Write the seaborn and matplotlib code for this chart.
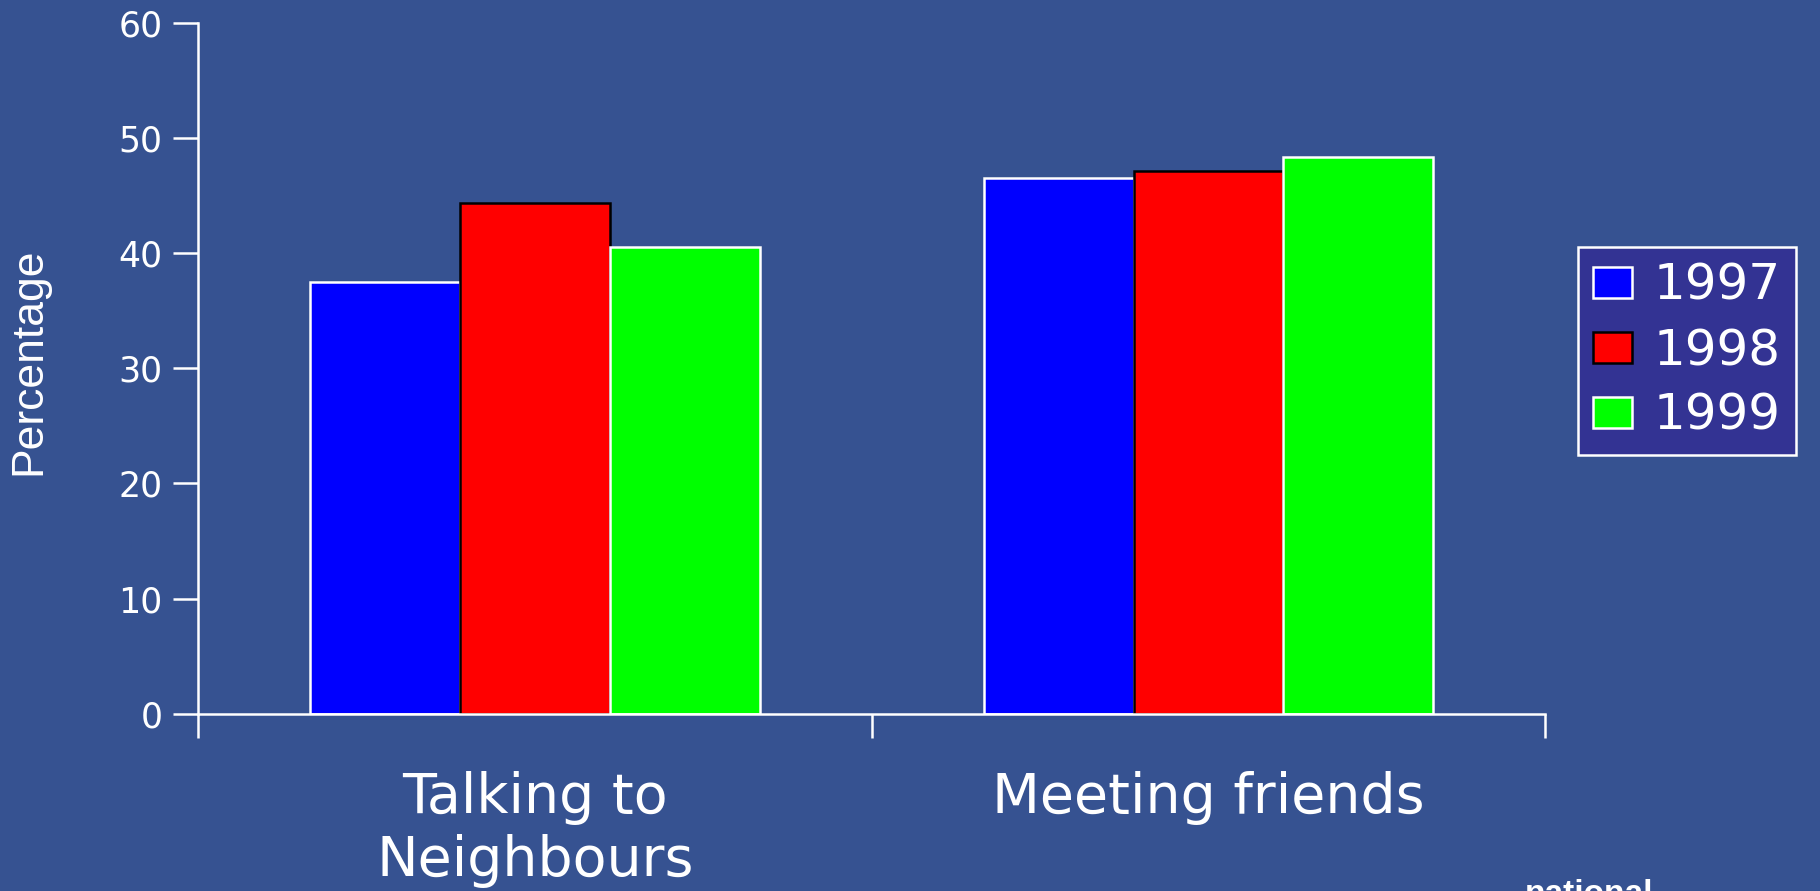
import matplotlib
matplotlib.use("Agg")
import matplotlib.pyplot as plt
import seaborn as sns
import pandas as pd

categories = ["Talking to\nNeighbours", "Meeting friends"]
years = ["1997", "1998", "1999"]
values_1997 = [37.5, 46.5]
values_1998 = [44.3, 47.1]
values_1999 = [40.5, 48.3]
yticks = [0, 10, 20, 30, 40, 50, 60]

colors = ["#0000ff", "#ff0000", "#00ff00"]
edges = ["white", "black", "white"]
BG = "#365291"
LEG_BG = "#333393"

rows = []
for y, vals in zip(years, [values_1997, values_1998, values_1999]):
    for c, v in zip(categories, vals):
        rows.append({"activity": c, "year": y, "value": v})
df = pd.DataFrame(rows)

sns.set_style("white")
plt.rcParams["font.family"] = ["DejaVu Sans"]

fig = plt.figure(figsize=(18.2, 8.91), dpi=100, facecolor=BG)
ax = fig.add_axes([0.109, 0.1987, 0.740, 0.776])
ax.set_facecolor(BG)

sns.barplot(data=df, x="activity", y="value", hue="year", order=categories,
            hue_order=years, palette=colors, width=0.668, ax=ax,
            saturation=1, legend=False)

for cont, ec in zip(ax.containers, edges):
    for p in cont.patches:
        p.set_edgecolor(ec)
        p.set_linewidth(1.8)

ax.set_xlim(-0.5, 1.5)
ax.set_ylim(0, 60)
ax.set_yticks(yticks)
ax.set_yticklabels([str(t) for t in yticks], color="white", fontsize=25)
ax.set_xticks([-0.5, 0.5, 1.5])
ax.set_xticklabels(["", "", ""])
ax.set_xticks([0, 1], minor=True)
ax.set_xticklabels(categories, minor=True, color="white", fontsize=40,
                   linespacing=1.22)
ax.tick_params(axis="x", which="minor", length=0, pad=41)
ax.tick_params(axis="x", which="major", length=17, width=1.8, color="white",
               direction="out", bottom=True)
ax.tick_params(axis="y", length=18, width=1.8, color="white", pad=8,
               direction="out", left=True)
ax.set_xlabel("")
ax.set_ylabel("")

for s in ["top", "right"]:
    ax.spines[s].set_visible(False)
for s in ["left", "bottom"]:
    ax.spines[s].set_color("white")
    ax.spines[s].set_linewidth(1.8)

fig.text(29 / 1820, 1 - 361 / 891, "Percentage", rotation=90, color="white",
         fontsize=32, ha="center", va="center",
         family=["Liberation Sans", "DejaVu Sans"])

leg = ax.legend(handles=list(ax.containers), labels=years,
                loc="upper left", bbox_to_anchor=(1578 / 1820, 1 - 247 / 891),
                bbox_transform=fig.transFigure, fontsize=36,
                frameon=True, fancybox=False, facecolor=LEG_BG,
                edgecolor="white", framealpha=1,
                handlelength=0.77, handleheight=0.58, handletextpad=0.45,
                labelspacing=0.34, borderpad=0.3, borderaxespad=0)
leg.get_frame().set_linewidth(1.8)
for t in leg.get_texts():
    t.set_color("white")

fig.text(1525 / 1820, 1 - 879 / 891, "national", color="white",
         fontsize=24, fontweight="bold", ha="left", va="top",
         family=["Liberation Sans", "DejaVu Sans"])

fig.savefig("out.png", dpi=100, facecolor=BG)
